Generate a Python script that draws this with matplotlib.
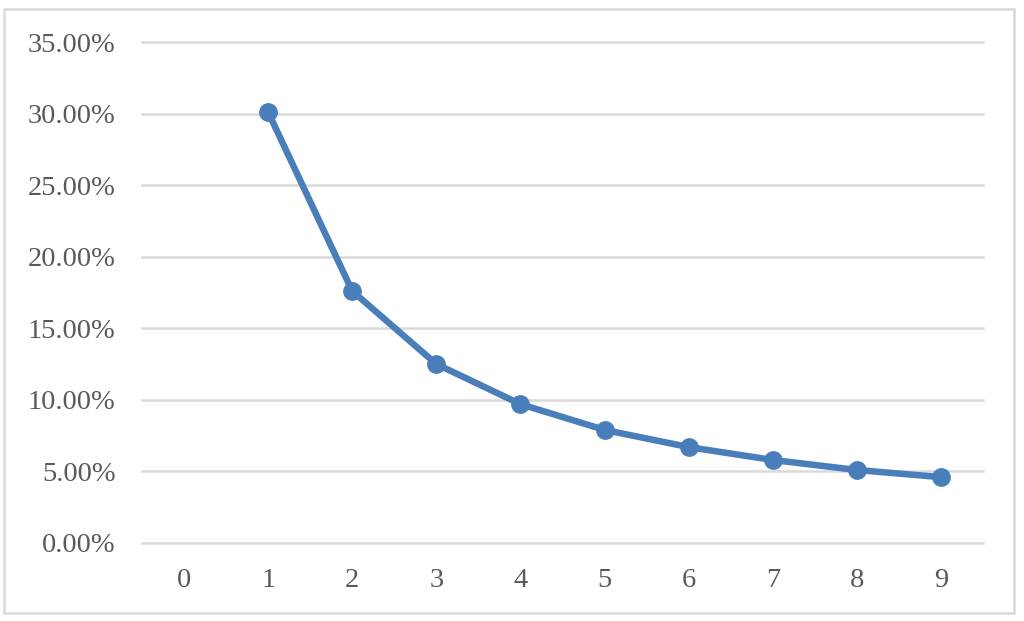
import matplotlib.pyplot as plt
from matplotlib.patches import Rectangle
from matplotlib.ticker import PercentFormatter

categories = [0, 1, 2, 3, 4, 5, 6, 7, 8, 9]
digits = [1, 2, 3, 4, 5, 6, 7, 8, 9]
share = [0.301, 0.176, 0.125, 0.097, 0.079, 0.067, 0.058, 0.051, 0.046]
yticks = [0, 0.05, 0.10, 0.15, 0.20, 0.25, 0.30, 0.35]

blue = '#4a7ebb'
grid = '#d9d9d9'
text = '#595959'

plt.rcParams['font.family'] = ['Liberation Serif', 'DejaVu Serif']

W, H = 1024, 621
fig = plt.figure(figsize=(W / 100, H / 100), dpi=100)
ax = fig.add_axes([142 / W, 1 - 543 / H, (983 - 142) / W, (543 - 42) / H])

ax.plot(digits, share, color=blue, lw=4.7, marker='o', ms=12.5,
        solid_capstyle='round', zorder=3)

ax.set_xlim(-0.5, 9.5)
ax.set_ylim(0, 0.35)
ax.set_xticks(categories)
ax.set_yticks(yticks)
ax.yaxis.set_major_formatter(PercentFormatter(1.0, decimals=2))
ax.grid(axis='y', color=grid, lw=1.8)
ax.set_axisbelow(True)
for gl in ax.get_ygridlines():
    gl.set_clip_on(False)
for s in ax.spines.values():
    s.set_visible(False)
ax.tick_params(axis='both', length=0, labelsize=20.5, colors=text)
ax.tick_params(axis='y', pad=19)
ax.tick_params(axis='x', pad=18)

# chart border
fig.patches.append(Rectangle((4 / W, 1 - 613 / H), 1010 / W, 604 / H,
                             transform=fig.transFigure, fill=False,
                             edgecolor=grid, lw=1.8))

fig.savefig('out.png', dpi=100)
